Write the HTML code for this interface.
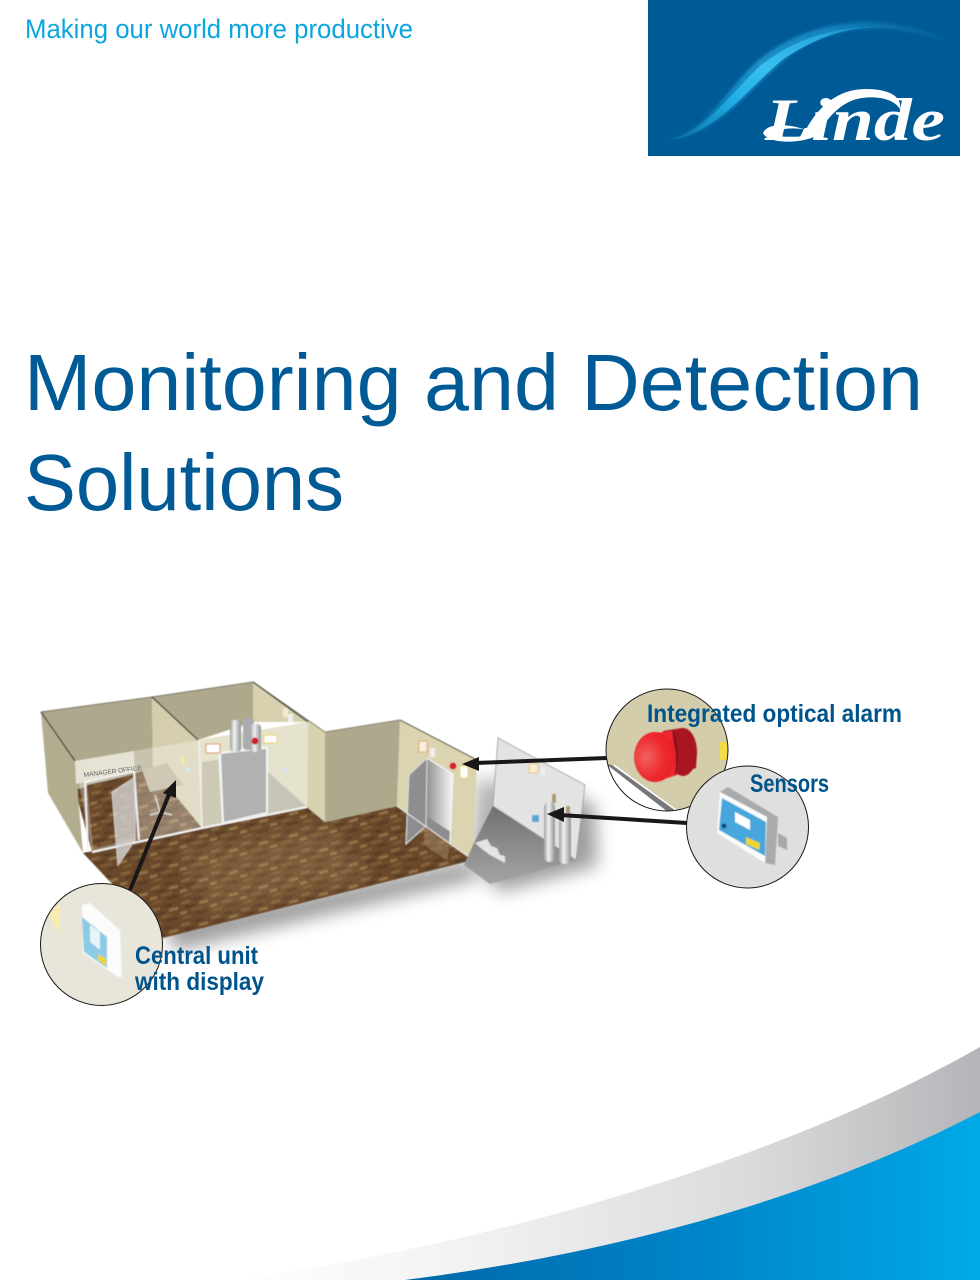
<!DOCTYPE html>
<html><head><meta charset="utf-8"><title>Monitoring and Detection Solutions</title>
<style>html,body{margin:0;padding:0;background:#fff}svg{display:block}text{font-family:"Liberation Sans",sans-serif}</style></head>
<body>
<svg width="980" height="1280" viewBox="0 0 980 1280" xmlns="http://www.w3.org/2000/svg">
<defs>
<linearGradient id="sw" x1="0" y1="1" x2="1" y2="0"><stop offset="0" stop-color="#0a6ea8"/><stop offset=".3" stop-color="#22aee4"/><stop offset=".5" stop-color="#38c0f0"/><stop offset=".75" stop-color="#28a8de"/><stop offset="1" stop-color="#005a96"/></linearGradient>
<linearGradient id="grey" x1="0" y1="0" x2="1" y2="0"><stop offset="0" stop-color="#fff"/><stop offset=".35" stop-color="#f0f0f1"/><stop offset=".7" stop-color="#d9dadb"/><stop offset="1" stop-color="#b4b5b8"/></linearGradient>
<linearGradient id="blue" x1="0" y1="0" x2="1" y2="0"><stop offset="0" stop-color="#0068a8"/><stop offset=".5" stop-color="#0084c8"/><stop offset="1" stop-color="#00a9e8"/></linearGradient>
<linearGradient id="open" x1="0" y1="0" x2="1" y2="0"><stop offset="0" stop-color="#8a8a8a"/><stop offset="1" stop-color="#f8f8f8"/></linearGradient>
<linearGradient id="cyl" x1="0" y1="0" x2="1" y2="0"><stop offset="0" stop-color="#9a9da0"/><stop offset=".4" stop-color="#f2f2f2"/><stop offset="1" stop-color="#8d9093"/></linearGradient>
<linearGradient id="gfl" x1="0" y1="0" x2="0" y2="1"><stop offset="0" stop-color="#6f6f6f"/><stop offset=".5" stop-color="#8c8c8c"/><stop offset="1" stop-color="#a4a4a4"/></linearGradient>
<radialGradient id="red" cx=".3" cy=".5" r=".7"><stop offset="0" stop-color="#f0625f"/><stop offset=".6" stop-color="#ee2a2f"/><stop offset="1" stop-color="#e81f28"/></radialGradient>
<pattern id="wood" width="30" height="22" patternUnits="userSpaceOnUse" patternTransform="skewY(-14)">
<rect width="30" height="22" fill="#6a4a2c"/>
<rect x="1" y="1" width="9" height="3" fill="#84623b"/><rect x="14" y="0" width="8" height="3" fill="#5a3e25"/>
<rect x="5" y="6" width="10" height="3" fill="#5a3e25"/><rect x="19" y="5" width="9" height="3" fill="#907044"/>
<rect x="0" y="11" width="7" height="3" fill="#907044"/><rect x="11" y="10" width="11" height="3" fill="#7a5a35"/>
<rect x="3" y="16" width="9" height="3" fill="#7a5a35"/><rect x="17" y="15" width="11" height="3" fill="#5a3e25"/>
</pattern>
<filter id="s" x="-5%" y="-5%" width="110%" height="110%"><feGaussianBlur stdDeviation=".45"/></filter>
<filter id="b2" x="-20%" y="-20%" width="140%" height="140%"><feGaussianBlur stdDeviation="1.5"/></filter>
<filter id="b6" x="-30%" y="-30%" width="160%" height="160%"><feGaussianBlur stdDeviation="9"/></filter>
<clipPath id="c1"><circle cx="667" cy="750" r="61"/></clipPath>
<clipPath id="c2"><circle cx="747.5" cy="827" r="61"/></clipPath>
<clipPath id="c3"><circle cx="101.5" cy="944.5" r="61"/></clipPath>
</defs>

<rect width="980" height="1280" fill="#fff"/>

<text x="25" y="38" font-size="27" fill="#0ba5e0" textLength="388" lengthAdjust="spacingAndGlyphs">Making our world more productive</text>

<!-- logo -->
<rect x="648" y="0" width="312" height="156" fill="#005a96"/>
<path d="M660 142C702 136 722 96 752 66C792 28 870 2 950 42C880 20 832 24 786 58C744 94 716 138 660 142Z" fill="url(#sw)" opacity=".55" filter="url(#b2)"/>
<path d="M668 140C706 132 728 96 760 66C796 36 860 14 930 34C870 20 830 28 782 60C744 92 716 134 668 140Z" fill="url(#sw)"/>
<path d="M802 137C815 110 835 89 866 89C888 89 902 96 900 109C893 98 876 96 862 98C840 101 826 120 816 137Z" fill="#fff"/>
<path d="M763 133C768 122 790 124 806 130C794 127 778 128 775 134C786 140 800 136 816 136C800 144 768 144 763 133Z" fill="#fff"/>
<text x="765" y="140" font-size="60" fill="#fff" style="font-family:'Liberation Serif',serif;font-style:italic;font-weight:bold" textLength="180" lengthAdjust="spacingAndGlyphs">Linde</text>

<!-- title -->
<text x="24" y="410" font-size="80" fill="#005a96" textLength="899" lengthAdjust="spacingAndGlyphs">Monitoring and Detection</text>
<text x="24" y="510" font-size="80" fill="#005a96" textLength="320" lengthAdjust="spacingAndGlyphs">Solutions</text>

<!-- bottom swoosh -->
<path d="M235 1280C520 1240 800 1150 980 1047V1280Z" fill="url(#grey)"/>
<path d="M405 1280C640 1250 830 1190 980 1112V1280Z" fill="url(#blue)"/>

<!-- shadows -->
<polygon points="165,925 470,860 480,878 175,950" fill="#000" opacity=".4" filter="url(#b6)"/>
<polygon points="505,770 595,805 597,866 500,892 480,868" fill="#000" opacity=".38" filter="url(#b6)"/>
<polygon points="477,775 498,785 490,850 472,855" fill="#000" opacity=".3" filter="url(#b6)"/>

<g filter="url(#s)">
<!-- floor -->
<polygon points="83,853 307,807 325,822 397,806 473,860 163,938" fill="url(#wood)"/>
<polygon points="180,850 330,825 370,880 210,915" fill="#d9b98a" opacity=".16" filter="url(#b6)"/>

<!-- room 1 -->
<polygon points="41,712 152,697 153,770 75,790 75,761" fill="#aea88c"/>
<polygon points="152,697 198,740 202,828 153,768" fill="#d4ceae"/>
<polygon points="75,790 153,768 202,828 92,852" fill="url(#wood)"/>
<polygon points="41,712 75,761 83,853 48,793" fill="#b3ad90"/>
<polygon points="75,761 198,740 202,828 92,852" fill="#fff" opacity=".3"/>
<polygon points="75,761 134,751 135,771 76,784" fill="#e6e2d4"/>
<polygon points="134,751 152,748 152,768 135,772" fill="#c8c3ae"/>
<polygon points="87,785 133,775 136,838 93,849" fill="url(#wood)"/>
<polygon points="142,770 167,763 183,785 150,792" fill="#cfc8b4"/>
<path d="M155 795L160 812M160 812L150 815M160 812L172 815" stroke="#ddd" stroke-width="1.5" fill="none"/>
<polygon points="180,756 183,755 186,765 183,766" fill="#efe9a8"/>
<path d="M88 851L85 782L134 771L139 840" fill="none" stroke="#f2f2f2" stroke-width="2"/>
<line x1="92" y1="852" x2="202" y2="828" stroke="#f4f4f4" stroke-width="2"/>
<polygon points="112,792 135,777 135,840 118,865" fill="#d8d8d8" opacity=".78" stroke="#eee"/>

<!-- room 2 -->
<polygon points="152,697 253,682 253,722 198,740" fill="#aea88c"/>
<polygon points="253,682 325,732 325,822 307,807 308,722 253,722" fill="#d7d1b0"/>
<polygon points="198,740 308,722 307,807 202,828" fill="#e5e2cd"/>
<polygon points="202,762 222,759 223,823 202,828" fill="#b8b09b" opacity=".5"/>
<polygon points="268,772 307,807 267,814" fill="#c8c5b8"/>
<polygon points="218,752 268,746 268,813 222,824" fill="#f3f3f3"/>
<polygon points="221,754 266,749 266,812 224,822" fill="#b1b1b1"/>
<line x1="202" y1="828" x2="307" y2="807" stroke="#f4f4f4" stroke-width="2"/>
<line x1="199" y1="740" x2="202" y2="828" stroke="#f0f0f0" stroke-width="1.5"/>
<rect x="230" y="720" width="11" height="32" rx="4" fill="url(#cyl)"/>
<rect x="243" y="718" width="11" height="32" rx="4" fill="#a9adb0"/>
<rect x="250" y="724" width="11" height="28" rx="4" fill="url(#cyl)"/>
<circle cx="255" cy="741" r="3.5" fill="#d0202a"/>
<rect x="206" y="744" width="14" height="9" fill="#fff" stroke="#e08a30" stroke-width="1"/>
<rect x="264" y="735" width="13" height="8" fill="#fff" stroke="#e8d040" stroke-width="1"/>
<rect x="283" y="708" width="5" height="9" fill="#f6e9d0"/>
<rect x="288" y="714" width="5" height="8" fill="#eee"/>
<rect x="284" y="768" width="4" height="5" fill="#d6e6f2"/>
<rect x="186" y="767" width="4" height="5" fill="#d6e6f2"/>

<!-- wall 3 -->
<polygon points="325,732 400,720 397,806 325,822" fill="#aea88c"/>
<polygon points="400,720 477,760 473,860 397,806" fill="#dbd4b0"/>
<polygon points="427,758 453,774 450,843 425,826" fill="url(#open)"/>
<polygon points="426,816 451,832 450,843 425,826" fill="#8c8c8c"/>
<polygon points="427,758 409,775 406,844 426,826" fill="#8e8e90" stroke="#ddd" stroke-width="1"/>
<path d="M427 758L453 774L450 843" fill="none" stroke="#f0f0f0" stroke-width="1.5"/>
<polygon points="425,826 450,843 447,860 424,845" fill="#a38a68" opacity=".5"/>
<circle cx="453" cy="766" r="3.5" fill="#d8232a"/>
<rect x="419" y="741" width="8" height="11" fill="#f6efe0" stroke="#e3a040" stroke-width=".8"/>
<rect x="430" y="748" width="5" height="9" fill="#eee"/>
<rect x="460" y="766" width="8" height="12" fill="#fff" stroke="#e8d040" stroke-width=".8"/>
<line x1="325" y1="732" x2="400" y2="720" stroke="#8a8570" stroke-width="1"/>
<line x1="400" y1="720" x2="477" y2="760" stroke="#5a5648" stroke-width="1"/>
<line x1="473" y1="860" x2="397" y2="806" stroke="#eee" stroke-width="1"/>

<path d="M41 712L152 697L253 682L325 732" fill="none" stroke="#7c7864" stroke-width="1"/>
<path d="M41 712L75 761M152 697L198 740M253 682L308 722" stroke="#45423a" stroke-width="1.3" fill="none"/>

<!-- stair section -->
<polygon points="493,806 576,860 490,884 464,865 473,845" fill="url(#gfl)"/>
<polygon points="498,738 585,785 576,860 493,806" fill="#e3e3e3" stroke="#9a9a9a" stroke-width=".8"/>
<path d="M475 843L487 839L491 846L497 848L500 855L505 856L505 863L490 855L482 849Z" fill="#e4e4e4"/>
<rect x="529" y="764" width="9" height="9" fill="#f7ecd2" stroke="#e3b040" stroke-width=".6"/>
<rect x="541" y="768" width="4" height="9" fill="#eee"/>
<rect x="532" y="815" width="7" height="7" fill="#5aa8d8"/>
<rect x="544" y="802" width="11" height="60" rx="5" fill="url(#cyl)"/>
<rect x="559" y="810" width="12" height="54" rx="5" fill="url(#cyl)"/>
<rect x="552" y="794" width="4" height="9" fill="#b09870"/>
<rect x="566" y="806" width="4" height="7" fill="#b09870"/>
</g>
<text x="84" y="777" font-size="6.5" fill="#666" transform="rotate(-7 84 777)">MANAGER OFFICE</text>

<!-- arrows -->
<g fill="#1a1718" stroke="#1a1718">
<line x1="607" y1="758" x2="475" y2="763" stroke-width="4"/>
<polygon points="462,764 479,757 479,771" stroke="none"/>
<line x1="687" y1="823" x2="560" y2="815" stroke-width="4"/>
<polygon points="547,814 564,807 564,822" stroke="none"/>
<line x1="130" y1="890" x2="170" y2="792" stroke-width="4"/>
<polygon points="176,780 176,798 163,793" stroke="none"/>
</g>

<!-- alarm circle -->
<g clip-path="url(#c1)">
<rect x="600" y="685" width="135" height="130" fill="#d4cdab"/>
<polygon points="606,767 615,765 680,812 600,815" fill="#fff"/>
<polygon points="606,764 612,765 676,811 668,812" fill="#77777a"/>
<rect x="720" y="742" width="8" height="18" fill="#f3dc45"/>
<g filter="url(#s)">
<polygon points="663,731 682,728 697,750 696,768 670,777" fill="#a81820"/>
<ellipse cx="683" cy="752" rx="14" ry="24" fill="#a81820"/>
<polygon points="655,733 672,731 677,775 655,782" fill="#ee2a2f"/>
<ellipse cx="655" cy="757" rx="21" ry="25" fill="url(#red)"/>
<path d="M673 731Q680 753 675 775" fill="none" stroke="#5c1014" stroke-width="1"/>
</g>
</g>
<circle cx="667" cy="750" r="61" fill="none" stroke="#1a1718" stroke-width="1"/>

<!-- sensor circle -->
<circle cx="747.5" cy="827" r="61" fill="#dfdfdd"/>
<g clip-path="url(#c2)"><g filter="url(#s)">
<polygon points="778,833 787,838 787,850 778,846" fill="#a8a8a8"/>
<polygon points="728,787 778,817 775,865 765,863 767,817 720,792" fill="#a9aaab"/>
<polygon points="720,792 767,817 765,863 717,833" fill="#fbfbfb"/>
<polygon points="722,798 766,822 765,856 719,830" fill="#46a7dc"/>
<polygon points="735,812 750,820 750,830 735,822" fill="#fff"/>
<polygon points="746,837 760,843 759,850 746,844" fill="#f0d52e"/>
<circle cx="724" cy="826" r="2.5" fill="#1a4a80"/>
</g></g>
<circle cx="747.5" cy="827" r="61" fill="none" stroke="#1a1718" stroke-width="1"/>

<!-- central unit circle -->
<circle cx="101.5" cy="944.5" r="61" fill="#e8e5da"/>
<g clip-path="url(#c3)"><g filter="url(#s)">
<polygon points="48,913 60,903 60,935" fill="#f5eeb0"/>
<polygon points="82,905 90,903 120,930 122,977 118,977 83,953" fill="#fbfbfa"/>
<polygon points="82,917 107,937 107,968 84,952" fill="#8ccbe6"/>
<polygon points="90,925 100,932 100,950 90,942" fill="#e8f4f8"/>
<polygon points="98,954 106,959 106,966 98,960" fill="#f0d52e"/>
</g></g>
<circle cx="101.5" cy="944.5" r="61" fill="none" stroke="#1a1718" stroke-width="1"/>

<!-- labels -->
<g fill="#00548c" font-size="25" font-weight="bold">
<text x="647" y="722" textLength="255" lengthAdjust="spacingAndGlyphs">Integrated optical alarm</text>
<text x="750" y="792" textLength="79" lengthAdjust="spacingAndGlyphs">Sensors</text>
<text x="135" y="964" textLength="123" lengthAdjust="spacingAndGlyphs">Central unit</text>
<text x="135" y="990" textLength="129" lengthAdjust="spacingAndGlyphs">with display</text>
</g>
</svg>
</body></html>
